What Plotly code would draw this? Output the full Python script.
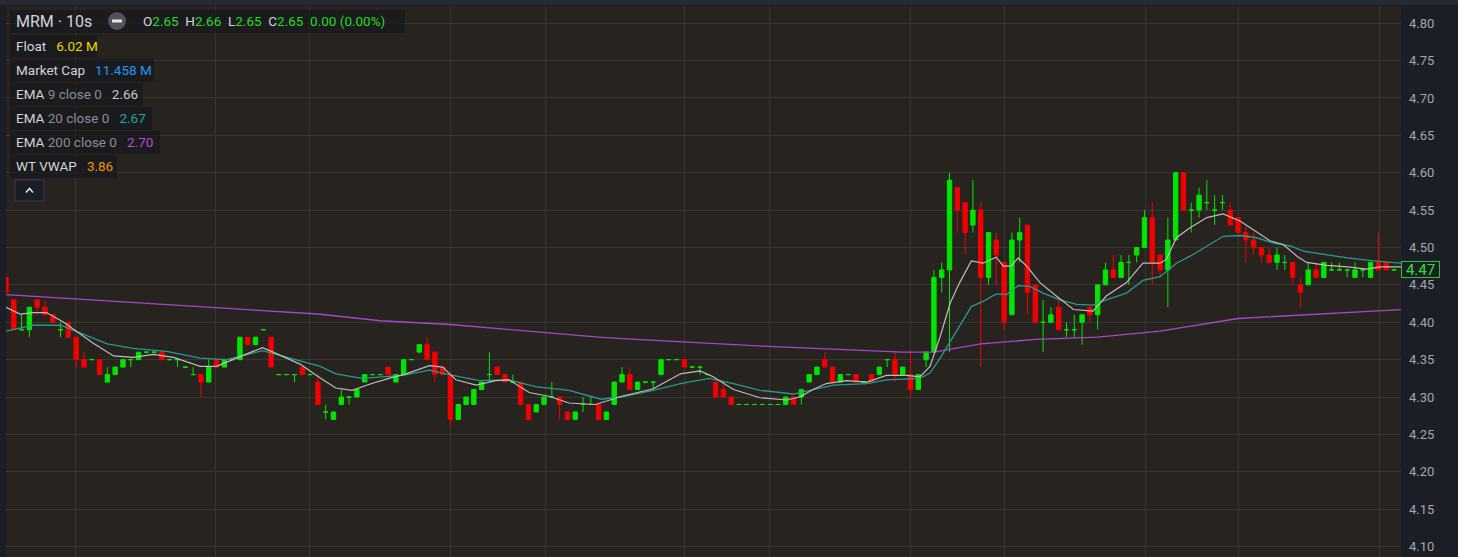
import plotly.graph_objects as go

# 10s candles, index 0 is the partly hidden bar at the left edge
opens = [
    4.46, 4.43, 4.39, 4.39, 4.43, 4.42, 4.41, 4.39, 4.40, 4.38,
    4.35, 4.35, 4.35, 4.32, 4.33, 4.34, 4.35, 4.35, 4.36, 4.36,
    4.36, 4.35, 4.35, 4.34, 4.33, 4.33, 4.32, 4.35, 4.34, 4.35,
    4.35, 4.38, 4.37, 4.39, 4.38, 4.33, 4.33, 4.33, 4.34, 4.33,
    4.32, 4.28, 4.27, 4.29, 4.30, 4.30, 4.32, 4.33, 4.33, 4.34,
    4.32, 4.33, 4.35, 4.36, 4.37, 4.36, 4.34, 4.33, 4.27, 4.29,
    4.29, 4.31, 4.33, 4.34, 4.33, 4.32, 4.32, 4.29, 4.28, 4.29,
    4.30, 4.30, 4.28, 4.27, 4.29, 4.29, 4.29, 4.27, 4.29, 4.32,
    4.33, 4.31, 4.32, 4.32, 4.33, 4.35, 4.35, 4.35, 4.34, 4.34,
    4.33, 4.32, 4.31, 4.30, 4.29, 4.29, 4.29, 4.29, 4.29, 4.29,
    4.29, 4.30, 4.30, 4.32, 4.33, 4.35, 4.34, 4.32, 4.33, 4.33,
    4.32, 4.33, 4.33, 4.35, 4.35, 4.33, 4.33, 4.31, 4.35, 4.36,
    4.46, 4.47, 4.58, 4.56, 4.53, 4.55, 4.46, 4.51, 4.48, 4.41,
    4.51, 4.53, 4.45, 4.40, 4.40, 4.42, 4.39, 4.39, 4.40, 4.42,
    4.41, 4.45, 4.47, 4.46, 4.48, 4.49, 4.50, 4.54, 4.49, 4.47,
    4.51, 4.60, 4.55, 4.55, 4.56, 4.55, 4.56, 4.55, 4.54, 4.52,
    4.51, 4.50, 4.49, 4.48, 4.48, 4.48, 4.45, 4.45, 4.47, 4.46,
    4.47, 4.47, 4.47, 4.46, 4.47, 4.46, 4.48, 4.48, 4.47,
]
highs = [
    4.46, 4.43, 4.41, 4.42, 4.43, 4.43, 4.41, 4.40, 4.40, 4.38,
    4.36, 4.35, 4.35, 4.34, 4.34, 4.35, 4.35, 4.36, 4.36, 4.36,
    4.36, 4.35, 4.35, 4.34, 4.34, 4.33, 4.35, 4.35, 4.35, 4.35,
    4.38, 4.38, 4.38, 4.39, 4.38, 4.33, 4.33, 4.33, 4.34, 4.33,
    4.33, 4.29, 4.28, 4.31, 4.30, 4.31, 4.33, 4.33, 4.33, 4.34,
    4.33, 4.35, 4.35, 4.37, 4.38, 4.36, 4.34, 4.33, 4.29, 4.30,
    4.31, 4.32, 4.36, 4.34, 4.33, 4.33, 4.32, 4.29, 4.29, 4.30,
    4.32, 4.30, 4.28, 4.28, 4.30, 4.30, 4.29, 4.28, 4.32, 4.34,
    4.34, 4.32, 4.32, 4.32, 4.35, 4.35, 4.35, 4.35, 4.34, 4.34,
    4.33, 4.32, 4.32, 4.30, 4.29, 4.29, 4.29, 4.29, 4.29, 4.29,
    4.30, 4.30, 4.31, 4.33, 4.34, 4.36, 4.34, 4.33, 4.33, 4.33,
    4.32, 4.33, 4.34, 4.35, 4.36, 4.34, 4.36, 4.33, 4.36, 4.47,
    4.48, 4.60, 4.58, 4.56, 4.59, 4.56, 4.52, 4.52, 4.48, 4.52,
    4.54, 4.53, 4.45, 4.43, 4.42, 4.43, 4.40, 4.41, 4.41, 4.42,
    4.45, 4.48, 4.49, 4.49, 4.49, 4.50, 4.55, 4.56, 4.49, 4.54,
    4.60, 4.60, 4.56, 4.58, 4.59, 4.57, 4.57, 4.56, 4.54, 4.53,
    4.52, 4.50, 4.50, 4.50, 4.49, 4.48, 4.46, 4.48, 4.48, 4.48,
    4.48, 4.48, 4.47, 4.48, 4.47, 4.48, 4.52, 4.48, 4.47,
]
lows = [
    4.44, 4.39, 4.39, 4.38, 4.41, 4.41, 4.40, 4.38, 4.38, 4.34,
    4.34, 4.35, 4.33, 4.32, 4.33, 4.34, 4.34, 4.35, 4.36, 4.36,
    4.35, 4.35, 4.34, 4.34, 4.33, 4.30, 4.32, 4.34, 4.34, 4.35,
    4.35, 4.37, 4.37, 4.39, 4.34, 4.33, 4.33, 4.32, 4.33, 4.33,
    4.29, 4.27, 4.27, 4.29, 4.29, 4.30, 4.32, 4.33, 4.33, 4.33,
    4.32, 4.33, 4.35, 4.36, 4.35, 4.32, 4.33, 4.26, 4.27, 4.29,
    4.29, 4.31, 4.32, 4.33, 4.32, 4.32, 4.29, 4.27, 4.28, 4.29,
    4.30, 4.27, 4.27, 4.27, 4.28, 4.29, 4.27, 4.27, 4.29, 4.32,
    4.31, 4.31, 4.32, 4.31, 4.33, 4.35, 4.35, 4.34, 4.34, 4.33,
    4.33, 4.30, 4.30, 4.29, 4.29, 4.29, 4.29, 4.29, 4.29, 4.29,
    4.29, 4.29, 4.29, 4.32, 4.33, 4.34, 4.32, 4.32, 4.33, 4.32,
    4.32, 4.32, 4.33, 4.34, 4.32, 4.33, 4.30, 4.31, 4.34, 4.36,
    4.44, 4.36, 4.52, 4.49, 4.52, 4.34, 4.45, 4.45, 4.39, 4.41,
    4.48, 4.41, 4.40, 4.36, 4.40, 4.39, 4.38, 4.38, 4.37, 4.40,
    4.39, 4.45, 4.46, 4.46, 4.45, 4.48, 4.50, 4.45, 4.46, 4.42,
    4.51, 4.55, 4.52, 4.54, 4.55, 4.53, 4.55, 4.53, 4.52, 4.48,
    4.49, 4.48, 4.48, 4.47, 4.47, 4.45, 4.42, 4.45, 4.46, 4.46,
    4.47, 4.47, 4.46, 4.46, 4.46, 4.46, 4.47, 4.47, 4.47,
]
closes = [
    4.44, 4.39, 4.39, 4.42, 4.42, 4.41, 4.40, 4.39, 4.38, 4.35,
    4.34, 4.35, 4.33, 4.33, 4.34, 4.35, 4.35, 4.36, 4.36, 4.36,
    4.35, 4.35, 4.35, 4.34, 4.33, 4.32, 4.34, 4.34, 4.35, 4.35,
    4.38, 4.37, 4.38, 4.39, 4.34, 4.33, 4.33, 4.33, 4.33, 4.33,
    4.29, 4.28, 4.28, 4.30, 4.30, 4.31, 4.33, 4.33, 4.33, 4.33,
    4.33, 4.35, 4.35, 4.37, 4.35, 4.33, 4.33, 4.27, 4.29, 4.30,
    4.31, 4.32, 4.33, 4.33, 4.32, 4.32, 4.29, 4.27, 4.29, 4.30,
    4.30, 4.29, 4.27, 4.28, 4.29, 4.29, 4.27, 4.28, 4.32, 4.33,
    4.31, 4.32, 4.32, 4.32, 4.35, 4.35, 4.35, 4.34, 4.34, 4.34,
    4.33, 4.30, 4.30, 4.29, 4.29, 4.29, 4.29, 4.29, 4.29, 4.29,
    4.30, 4.29, 4.31, 4.33, 4.34, 4.34, 4.32, 4.33, 4.33, 4.32,
    4.32, 4.32, 4.34, 4.35, 4.33, 4.34, 4.31, 4.33, 4.36, 4.46,
    4.47, 4.59, 4.55, 4.52, 4.55, 4.46, 4.52, 4.49, 4.40, 4.51,
    4.52, 4.44, 4.40, 4.40, 4.41, 4.39, 4.39, 4.39, 4.41, 4.41,
    4.45, 4.47, 4.46, 4.48, 4.48, 4.50, 4.54, 4.48, 4.47, 4.51,
    4.60, 4.55, 4.55, 4.57, 4.56, 4.55, 4.56, 4.53, 4.52, 4.51,
    4.50, 4.49, 4.48, 4.49, 4.48, 4.46, 4.44, 4.47, 4.46, 4.48,
    4.47, 4.47, 4.47, 4.47, 4.47, 4.48, 4.47, 4.47, 4.47,
]

# indicator lines (bar index, price)
ema9_x = [0, 1.8, 3.5, 5.2, 7.4, 9.1, 11.2, 13.8, 16.3, 18.9, 21.5, 24.9, 27, 30, 32.9,
          34.7, 37.7, 40.2, 42.3, 44.4, 46.6, 49.1, 51.3, 54.3, 56, 57.7, 60.3, 62.8,
          64.5, 67.1, 69.6, 72.2, 75.6, 79, 83, 86.5, 89, 90.7, 93.3, 96.7, 100.1,
          101.8, 103.5, 105.2, 107.8, 110.4, 112.9, 115.5, 117.2, 118.5, 119.8, 121.1,
          122.3, 123.8, 125.3, 127, 127.9, 128.9, 129.8, 130.9, 132.6, 134.7, 136.9,
          139.4, 141.1, 143.7, 145.8, 148, 148.8, 150.1, 151.8, 154, 156.1, 158.3,
          160.4, 162.1, 163.8, 165.6, 166.8, 169.4, 172, 174.5, 176.2, 178.9]
ema9_y = [4.420, 4.411, 4.413, 4.413, 4.400, 4.388, 4.372, 4.355, 4.353, 4.357, 4.353,
          4.341, 4.341, 4.354, 4.366, 4.358, 4.344, 4.326, 4.312, 4.309, 4.317, 4.325,
          4.331, 4.342, 4.340, 4.323, 4.316, 4.322, 4.323, 4.306, 4.301, 4.292, 4.290,
          4.301, 4.311, 4.331, 4.335, 4.327, 4.310, 4.299, 4.296, 4.300, 4.310, 4.318,
          4.322, 4.320, 4.329, 4.329, 4.327, 4.341, 4.381, 4.426, 4.453, 4.482, 4.479,
          4.487, 4.475, 4.475, 4.486, 4.475, 4.453, 4.435, 4.417, 4.415, 4.435, 4.453,
          4.479, 4.479, 4.484, 4.513, 4.526, 4.540, 4.545, 4.535, 4.520, 4.509, 4.504,
          4.488, 4.480, 4.476, 4.474, 4.471, 4.474, 4.474]

ema20_x = [0, 3.5, 7, 10, 13, 16.3, 20.6, 24.9, 28.3, 32.9, 36.4, 40.3, 42.3, 45.7, 50.9,
           54.3, 57.3, 60.7, 64.5, 67.9, 72.2, 76.3, 78.8, 83, 86.5, 90.2, 93.3, 96.7,
           101, 103.5, 106.1, 110.4, 112.9, 117.2, 118.5, 119.8, 121.1, 122.3, 123.8,
           125.3, 127, 128.3, 129.8, 131.3, 133, 135.2, 137.3, 139.4, 141.1, 143.7,
           145.8, 148, 150.1, 151.8, 154, 156.1, 158.3, 160.4, 162.5, 164.7, 166.4, 169,
           172, 175.4, 178.9]
ema20_y = [4.388, 4.396, 4.396, 4.383, 4.371, 4.365, 4.361, 4.352, 4.350, 4.362, 4.352,
           4.341, 4.331, 4.325, 4.329, 4.336, 4.329, 4.322, 4.323, 4.314, 4.309, 4.297,
           4.300, 4.309, 4.318, 4.325, 4.318, 4.309, 4.304, 4.310, 4.316, 4.318, 4.323,
           4.325, 4.332, 4.352, 4.375, 4.395, 4.421, 4.428, 4.438, 4.437, 4.449, 4.448,
           4.439, 4.430, 4.424, 4.423, 4.430, 4.439, 4.456, 4.461, 4.479, 4.488, 4.502,
           4.515, 4.516, 4.513, 4.506, 4.502, 4.495, 4.491, 4.486, 4.482, 4.479]

ema200_x = [0, 40, 48, 57, 76, 79, 97, 115, 119, 125, 132, 140, 148, 158, 178.9]
ema200_y = [4.437, 4.411, 4.402, 4.397, 4.380, 4.378, 4.368, 4.360, 4.360, 4.371, 4.377,
            4.380, 4.388, 4.405, 4.417]

price_ticks = [4.10, 4.15, 4.20, 4.25, 4.30, 4.35, 4.40, 4.45, 4.50, 4.55, 4.60, 4.65,
               4.70, 4.75, 4.80]

UP = '#00e600'
DOWN = '#f20000'
BG = '#27231f'
AXIS_BG = '#1b1e27'
GRID = '#393531'
TXT = '#d1d4dc'
MUTED = '#8a8d95'

W, H = 1458, 557
L, R, T, B = 6, 57, 6, 0


def px(x):
    return (x - L) / (W - L - R)


def py(y):
    return 1 - (y - T) / (H - T - B)


idx = list(range(len(opens)))
body = [i for i in idx if opens[i] != closes[i]]
flat = [i for i in idx if opens[i] == closes[i]]

fig = go.Figure()

fig.add_trace(go.Candlestick(
    x=body,
    open=[opens[i] for i in body],
    high=[highs[i] for i in body],
    low=[lows[i] for i in body],
    close=[closes[i] for i in body],
    increasing=dict(line=dict(color=UP, width=1), fillcolor=UP),
    decreasing=dict(line=dict(color=DOWN, width=1), fillcolor=DOWN),
    whiskerwidth=0,
    hoverinfo='skip',
))

# open == close bars are all drawn green on this chart
fig.add_trace(go.Candlestick(
    x=flat,
    open=[opens[i] for i in flat],
    high=[highs[i] for i in flat],
    low=[lows[i] for i in flat],
    close=[closes[i] for i in flat],
    increasing=dict(line=dict(color=UP, width=1), fillcolor=UP),
    decreasing=dict(line=dict(color=UP, width=1), fillcolor=UP),
    whiskerwidth=0,
    hoverinfo='skip',
))

fig.add_trace(go.Scatter(x=ema200_x, y=ema200_y, mode='lines',
                         line=dict(color='#a646c8', width=1.3), hoverinfo='skip'))
fig.add_trace(go.Scatter(x=ema20_x, y=ema20_y, mode='lines',
                         line=dict(color='#2a9890', width=1.3), hoverinfo='skip'))
fig.add_trace(go.Scatter(x=ema9_x, y=ema9_y, mode='lines',
                         line=dict(color='#bdbdbd', width=1.2), hoverinfo='skip'))

# time grid (bar positions of the vertical lines)
time_grid = [8.94, 26.84, 38.95, 57.03, 69.13, 87.0, 97.9, 116.0, 128.0, 146.1, 158.1, 176.1]

fig.update_layout(
    width=W, height=H,
    margin=dict(l=L, r=R, t=T, b=B),
    paper_bgcolor=AXIS_BG,
    plot_bgcolor=BG,
    showlegend=False,
    hovermode=False,
    boxgap=0.3, boxgroupgap=0.2,
    font=dict(family='Roboto', color=TXT),
    xaxis=dict(
        range=[0, 178.9], rangeslider=dict(visible=False),
        tickvals=time_grid, showticklabels=False, ticks='',
        showgrid=True, gridcolor=GRID, gridwidth=1, zeroline=False,
    ),
    yaxis=dict(
        side='right', range=[4.086, 4.823],
        tickvals=price_ticks, ticktext=['%.2f' % v for v in price_ticks],
        tickfont=dict(size=13, color='#a3a7b0'), ticks='', ticklabelstandoff=7,
        showgrid=True, gridcolor=GRID, gridwidth=1, zeroline=False,
    ),
)

shapes = []
# top strip above the pane
shapes.append(dict(type='rect', xref='paper', yref='paper', x0=px(0), x1=px(W),
                   y0=py(5), y1=py(0), fillcolor='#262a33', line=dict(width=0), layer='below'))

# legend row backgrounds
rows = [(10, 405, 10, 33), (10, 97, 35, 58), (10, 154, 59, 82), (10, 143, 83, 106),
        (10, 152, 107, 130), (10, 160, 131, 154), (10, 117, 155, 178)]
for x0, x1, y0, y1 in rows:
    shapes.append(dict(type='rect', xref='paper', yref='paper', x0=px(x0), x1=px(x1),
                       y0=py(y1), y1=py(y0), fillcolor='rgba(24,25,31,0.72)',
                       line=dict(width=0), layer='above'))

# collapse button next to the title
shapes.append(dict(type='circle', xref='paper', yref='paper', x0=px(108), x1=px(126),
                   y0=py(30), y1=py(12), fillcolor='#50535b', line=dict(width=0), layer='above'))
shapes.append(dict(type='rect', xref='paper', yref='paper', x0=px(112), x1=px(122),
                   y0=py(22.5), y1=py(19.5), fillcolor='#e6e6e6', line=dict(width=0), layer='above'))

# expand button under the legend
shapes.append(dict(type='rect', xref='paper', yref='paper', x0=px(15), x1=px(44),
                   y0=py(201), y1=py(180), fillcolor='#1a1d25',
                   line=dict(color='#3b3f4a', width=1), layer='above'))
shapes.append(dict(type='path', xref='paper', yref='paper',
                   path='M %f %f L %f %f L %f %f' % (px(26), py(192.5), px(29.5), py(188.5),
                                                     px(33), py(192.5)),
                   line=dict(color='#e6e6e6', width=1.5), layer='above'))

fig.update_layout(shapes=shapes)

g = '#22dd22'
gap = '&nbsp;&nbsp;&nbsp;'


def ann(x, y, text, size=13.5, **kw):
    fig.add_annotation(xref='paper', yref='paper', x=px(x), y=py(y), text=text,
                       showarrow=False, xanchor='left', yanchor='middle',
                       font=dict(size=size, color=TXT, family='Roboto'), **kw)


ann(14, 21, 'MRM · 10s', size=16)
ann(141, 21, ('O<span style="color:%s">2.65</span>&nbsp;&nbsp;H<span style="color:%s">2.66</span>'
              '&nbsp;&nbsp;L<span style="color:%s">2.65</span>&nbsp;&nbsp;C<span style="color:%s">2.65</span>'
              '&nbsp;&nbsp;<span style="color:%s">0.00 (0.00%%)</span>') % (g, g, g, g, g), size=13.5)
ann(14, 46, 'Float' + gap + '<span style="color:#f2d700">6.02 M</span>')
ann(14, 70, 'Market Cap' + gap + '<span style="color:#2196f3">11.458 M</span>')
ann(14, 94, 'EMA <span style="color:%s">9 close 0</span>' % MUTED + gap +
    '<span style="color:#c8c8c8">2.66</span>')
ann(14, 118, 'EMA <span style="color:%s">20 close 0</span>' % MUTED + gap +
    '<span style="color:#1fa89c">2.67</span>')
ann(14, 142, 'EMA <span style="color:%s">200 close 0</span>' % MUTED + gap +
    '<span style="color:#b449d6">2.70</span>')
ann(14, 166, 'WT VWAP' + gap + '<span style="color:#f39200">3.86</span>')

# last price tag on the price scale
fig.add_annotation(xref='paper', yref='y', x=px(1421), y=closes[-1],
                   text='%.2f' % closes[-1], showarrow=False,
                   xanchor='center', yanchor='middle',
                   font=dict(size=15, color='#2ee02e', family='Roboto'),
                   bgcolor=AXIS_BG, bordercolor='#25c825', borderwidth=1,
                   borderpad=0, width=37, height=15)

# the page's default 8px body margin would shift the whole figure
fig.write_html("out.html", config={'displayModeBar': False},
               post_script="document.body.style.margin='0';")
